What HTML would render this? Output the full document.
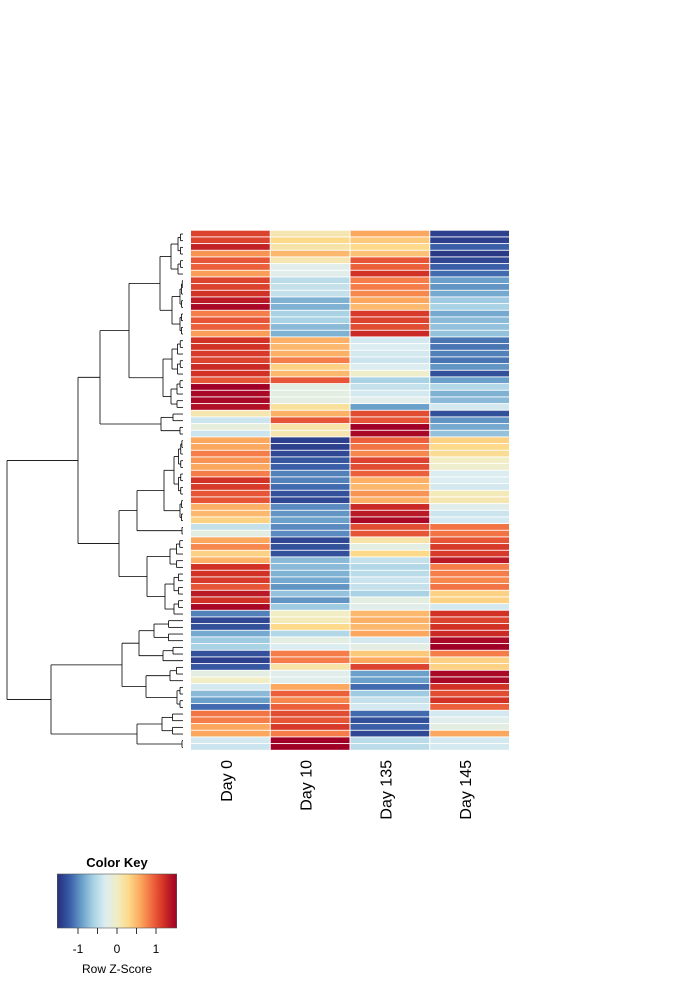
<!DOCTYPE html>
<html><head><meta charset="utf-8"><style>
html,body{margin:0;padding:0;background:#fff;}
svg text{font-family:"Liberation Sans",Arial,sans-serif;}
</style></head><body>
<svg id="chart" width="700" height="1000" viewBox="0 0 700 1000" xmlns="http://www.w3.org/2000/svg">
<g id="dendro" stroke="#000" stroke-width="0.8" fill="none"></g>
<g id="cells"></g>
<g id="collabels"></g>
<g id="key"></g>
</svg>
<script>
const columns = ["Day 0","Day 10","Day 135","Day 145"];
const day0 = [1.1,1.1,1.3,0.7,1.0,0.95,0.65,1.1,1.1,1.2,1.35,1.45,0.8,1.0,0.95,0.65,1.2,1.2,1.15,1.1,1.25,1.2,1.0,1.5,1.45,1.45,1.4,0.1,-0.4,-0.15,-0.4,0.6,0.6,0.8,0.7,0.6,0.8,1.2,1.15,1.0,1.0,0.55,0.5,0.35,-0.45,-0.2,0.6,0.75,0.35,0.55,1.2,1.2,1.15,1.0,1.35,1.2,1.45,-1.05,-1.35,-1.3,-0.85,-0.65,-0.6,-1.3,-1.4,-1.25,-0.2,0.0,-0.35,-0.75,-0.9,-1.15,0.85,0.8,0.6,0.6,-0.35,-0.4];
const day10 = [0.1,0.3,0.15,0.5,0.1,-0.25,-0.25,-0.5,-0.45,-0.45,-0.8,-0.8,-0.6,-0.6,-0.75,-0.8,0.55,0.5,0.55,0.8,0.35,0.5,1.0,-0.2,-0.2,-0.2,0.2,0.55,1.0,0.15,0.1,-1.4,-1.4,-1.35,-1.25,-1.2,-1.05,-1.05,-1.15,-1.3,-1.35,-1.0,-0.95,-0.9,-1.0,-1.0,-1.35,-1.3,-1.3,-0.75,-0.75,-0.8,-0.85,-0.95,-0.7,-0.95,-0.65,0.0,0.05,0.3,-0.55,-0.2,-0.3,0.8,0.8,0.15,-0.25,-0.25,0.6,0.95,0.75,0.95,1.05,1.0,1.15,0.8,1.5,1.5];
const day135 = [0.6,0.4,0.3,0.45,1.0,0.95,1.2,0.8,0.8,0.75,0.6,0.5,1.15,1.1,1.05,1.25,-0.35,-0.3,-0.35,-0.4,-0.3,-0.05,-0.6,-0.45,-0.35,-0.25,-0.9,1.05,1.0,1.5,1.45,0.95,0.85,0.75,1.1,1.05,0.95,0.55,0.5,0.7,0.55,1.25,1.35,1.45,1.05,1.0,0.15,-0.2,0.3,-0.45,-0.55,-0.5,-0.4,-0.45,-0.6,-0.2,-0.25,0.5,0.55,0.5,0.6,-0.35,-0.2,0.4,0.6,1.1,-0.9,-0.9,-1.15,-0.65,-0.45,-0.35,-1.15,-1.3,-1.2,-1.35,-0.5,-0.5];
const day145 = [-1.4,-1.4,-1.2,-1.45,-1.35,-1.2,-1.15,-0.9,-0.95,-0.85,-0.65,-0.6,-0.85,-0.75,-0.7,-0.7,-1.1,-1.1,-1.05,-1.1,-0.95,-1.3,-0.9,-0.55,-0.8,-0.75,-0.35,-1.3,-0.95,-0.85,-0.7,0.35,0.3,0.25,0.0,-0.05,-0.3,-0.3,-0.35,0.05,0.1,-0.25,-0.4,-0.35,0.85,0.85,1.0,1.15,1.15,1.35,0.8,0.8,0.75,0.85,0.35,0.35,-0.35,1.2,1.1,1.2,1.25,1.45,1.5,0.8,0.35,0.35,1.45,1.45,1.2,1.05,1.2,0.95,-0.35,-0.25,-0.2,0.6,-0.35,-0.35];
const series = [day0, day10, day135, day145];
const keyTicks = [-1, 0, 1];
const keyMinorTicks = [-1.5,-1,-0.5,0,0.5,1,1.5];

const NS = "http://www.w3.org/2000/svg";
function mk(tag, attrs, parent){const e=document.createElementNS(NS,tag);for(const k in attrs)e.setAttribute(k,attrs[k]);parent.appendChild(e);return e;}
const pal = ["#26317f","#3a5fa8","#6aa0ca","#a9d3e5","#dcedf1","#f1edc4","#fdd98a","#fba85e","#f0683e","#d23126","#a10026"];
function hex(h){return [1,3,5].map(i=>parseInt(h.substr(i,2),16));}
function color(v){let t=(v+1.5)/3; t=Math.max(0,Math.min(1,t)); const p=t*(pal.length-1); const i=Math.min(pal.length-2,Math.floor(p)); const f=p-i; const a=hex(pal[i]),b=hex(pal[i+1]); return "rgb("+a.map((x,j)=>Math.round(x+(b[j]-x)*f)).join(",")+")";}

const nRows = day0.length;
const yTop = 230.7, yBottom = 750.7, xLeft = 191, xRight = 510;
const rowH = (yBottom-yTop)/nRows, colW = (xRight-xLeft)/columns.length;
function yScale(i){return yTop + i*rowH;}
function xScale(j){return xLeft + j*colW;}

const cells = document.getElementById('cells');
series.forEach((vals, j) => {
  vals.forEach((v, i) => {
    const r = mk('rect', {x:xScale(j), y:yScale(i), width:colW-1, height:rowH-0.9, fill:color(v)}, cells);
    
    
  });
});

const cl = document.getElementById('collabels');
columns.forEach((c, j) => {
  const x = xScale(j)+colW/2+1, y = 760;
  const t = mk('text', {x:x, y:y, transform:`rotate(-90 ${x} ${y})`, 'text-anchor':'end', 'font-size':'16', fill:'#000'}, cl);
  t.textContent = c;
  
  
});

const tree = {h:7,c:[
 {h:78,c:[
  {h:100,c:[
   {h:129,c:[
    {h:160,c:[{h:171,c:[{n:4,h:178},{n:3,h:178}]},{h:172,c:[{n:5,h:180},{n:4,h:180}]}]},
    {h:163,c:[{n:6,h:172},{n:5,h:171}]}]},
   {h:161,c:[{n:2,h:173},{n:2,h:180}]}]},
  {h:119,c:[
   {h:137,c:[{h:164,c:[{n:9,h:174},{n:4,h:180}]},{n:2,h:182}]},
   {h:147,c:[{n:5,h:170},{n:7,h:165}]}]}]},
 {h:51,c:[
  {h:122,c:[{h:139,c:[{n:4,h:154},{n:3,h:163}]},{h:146,c:[{n:3,h:170},{n:4,h:177}]}]},
  {h:137,c:[{n:4,h:162},{n:2,h:182}]}]}]};
const dg = document.getElementById('dendro');
let rowIdx = 0;
const LEAFX = 183;
function seg(x1,y1,x2,y2){mk('line',{x1:x1,y1:y1,x2:x2,y2:y2},dg);}
function drawGroup(a,b,h){
  if(b-a===1){return yScale(a)+rowH/2;}
  const m = Math.ceil((a+b)/2);
  const hh = h + (LEAFX-h)*0.5;
  const y1 = drawGroup(a,m,hh), y2 = drawGroup(m,b,hh);
  const x1 = (m-a===1)?LEAFX:hh, x2=(b-m===1)?LEAFX:hh;
  seg(h,y1,x1,y1); seg(h,y2,x2,y2); seg(h,y1,h,y2);
  return (y1+y2)/2;
}
function draw(node){
  if(node.n!==undefined){const a=rowIdx; rowIdx+=node.n; return {y:drawGroup(a,rowIdx,node.h), h:node.n===1?LEAFX:node.h};}
  const r1=draw(node.c[0]), r2=draw(node.c[1]);
  seg(node.h,r1.y,r1.h,r1.y); seg(node.h,r2.y,r2.h,r2.y); seg(node.h,r1.y,node.h,r2.y);
  return {y:(r1.y+r2.y)/2,h:node.h};
}
draw(tree);

const key = document.getElementById('key');
const kx0=57.3, kx1=176.7, ky0=874, ky1=928;
function kScale(v){return 117 + v*39;}
const defs = mk('defs',{},key);
const grad = mk('linearGradient',{id:'kg',x1:'0',x2:'1',y1:'0',y2:'0'},defs);
for(let i=0;i<=30;i++){const v=-1.53+3.06*i/30; mk('stop',{offset:(i/30),'stop-color':color(v)},grad);}
const kr = mk('rect',{x:kx0,y:ky0,width:kx1-kx0,height:ky1-ky0,fill:'url(#kg)',stroke:'#555','stroke-width':0.6},key);


keyMinorTicks.forEach(v=>{ if(Math.abs(v)<1.5) mk('line',{x1:kScale(v),x2:kScale(v),y1:ky1,y2:ky1+6,stroke:'#000','stroke-width':0.8},key);});
keyTicks.forEach(v=>{const t=mk('text',{x:kScale(v),y:953,'text-anchor':'middle','font-size':'12',fill:'#000'},key); t.textContent=String(v);
  
  });
const kt = mk('text',{x:117,y:867,'text-anchor':'middle','font-size':'13','font-weight':'bold',fill:'#000'},key);
kt.textContent='Color Key';


const kl = mk('text',{x:117,y:973,'text-anchor':'middle','font-size':'12',fill:'#000'},key);
kl.textContent='Row Z-Score';


</script>
</body></html>
